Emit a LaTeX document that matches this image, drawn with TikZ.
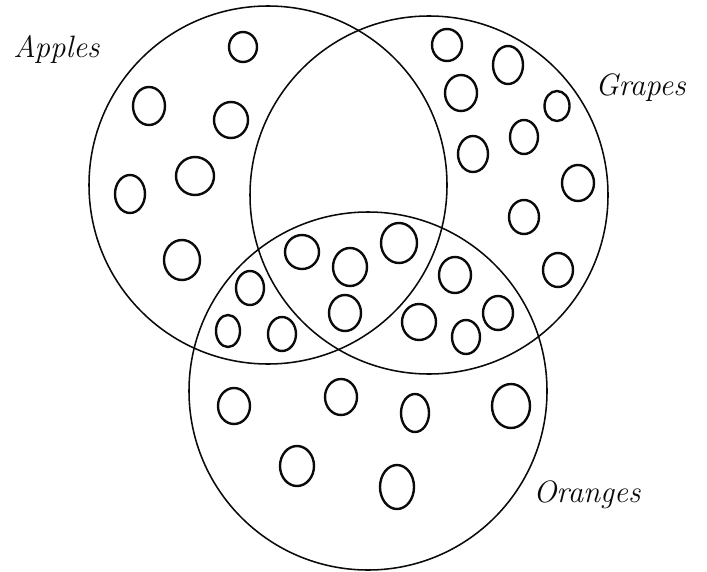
\documentclass[tikz,border=0pt]{standalone}
\usepackage{tikz}
\usetikzlibrary{positioning}
\definecolor{inkcol}{RGB}{10,10,10}

\begin{document}
\begin{tikzpicture}[x=0.025cm,y=-0.025cm,
    setline/.style={inkcol,line width=1.1pt},
    fruit/.style={inkcol,line width=1.7pt},
    setlabel/.style={inkcol,font=\fontsize{22}{26}\selectfont\itshape,inner sep=0pt,anchor=base west}]
  \useasboundingbox (0,0) rectangle (707,571);
  % the three sets
  \draw[setline] (268,185) circle[radius=179];
  \draw[setline] (429,195) circle[radius=179];
  \draw[setline] (368,391) circle[radius=179];
  \node[setlabel] (apples) at (13,58) {Apples};
  \node[setlabel] (grapes) at (595,96) {Grapes};
  \node[setlabel] (oranges) at (533,502) {Oranges};
  % apples only
  \foreach \x/\y/\a/\b in {243/47/14/15, 149/106/16/19, 231/120/17/18,
                           195/176/19/19, 130/194/15/19, 182/260/18/20}
     \draw[fruit] (\x,\y) ellipse[x radius=\a,y radius=\b];
  % grapes only
  \foreach \x/\y/\a/\b in {447/45/15/16, 508/65/15/19, 461/93/16/18,
                           557/106/12.5/15, 524/137/14/17, 473/154/15/18,
                           578/183/16/18, 524/217/15/17, 558/270/15/17}
     \draw[fruit] (\x,\y) ellipse[x radius=\a,y radius=\b];
  % apples and oranges
  \foreach \x/\y/\a/\b in {250/288/14/17, 228/331/12/16, 282/334/14/17}
     \draw[fruit] (\x,\y) ellipse[x radius=\a,y radius=\b];
  % all three
  \foreach \x/\y/\a/\b in {302/252/17/17, 350/267/17/19, 399/243/18/20,
                           345/313/16/18}
     \draw[fruit] (\x,\y) ellipse[x radius=\a,y radius=\b];
  % grapes and oranges
  \foreach \x/\y/\a/\b in {455/275/16/18, 419/322/17/18, 498/313/15/17,
                           466/337/14/17}
     \draw[fruit] (\x,\y) ellipse[x radius=\a,y radius=\b];
  % oranges only
  \foreach \x/\y/\a/\b in {234/406/16/18, 341/397/16/18, 415/413/14/19,
                           511/406/19/22, 297/466/17/20, 397/487/17/22}
     \draw[fruit] (\x,\y) ellipse[x radius=\a,y radius=\b];
\end{tikzpicture}
\end{document}
